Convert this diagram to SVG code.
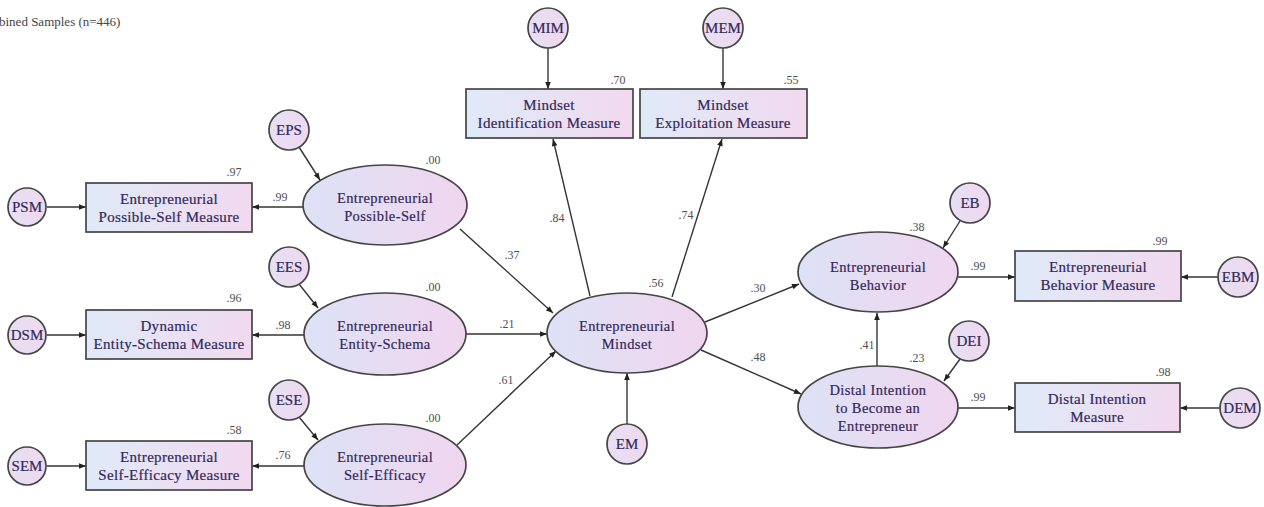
<svg xmlns="http://www.w3.org/2000/svg" width="1264" height="507" viewBox="0 0 1264 507">
  <defs>
    <linearGradient id="boxFill" x1="0" y1="0" x2="1" y2="0">
      <stop offset="0" stop-color="#dfeaf8"/>
      <stop offset="1" stop-color="#f2d9ef"/>
    </linearGradient>
    <linearGradient id="ovalFill" x1="0" y1="0" x2="1" y2="0">
      <stop offset="0" stop-color="#dde2f6"/>
      <stop offset="1" stop-color="#f0d6ef"/>
    </linearGradient>
    <linearGradient id="errFill" x1="0" y1="0" x2="1" y2="0">
      <stop offset="0" stop-color="#e6e0f4"/>
      <stop offset="1" stop-color="#efd8ef"/>
    </linearGradient>
    <marker id="arrow" viewBox="0 0 10 10" refX="10" refY="5" markerWidth="9" markerHeight="7" markerUnits="userSpaceOnUse" orient="auto">
      <path d="M0,1 L10,5 L0,9 z" fill="#222"/>
    </marker>
  </defs>
  <style>
    .box { fill: url(#boxFill); stroke: #454545; stroke-width: 1.7; }
    .oval { fill: url(#ovalFill); stroke: #454545; stroke-width: 1.7; }
    .err { fill: url(#errFill); stroke: #454545; stroke-width: 1.7; }
    text { font-family: 'Liberation Serif', 'DejaVu Serif', serif; }
    .lbl { font-size: 15px; letter-spacing: 0.3px; fill: #33285a; stroke: #33285a; stroke-width: 0.2; text-anchor: middle; }
    .elbl { font-size: 14.5px; letter-spacing: 0.4px; fill: #33285a; stroke: #33285a; stroke-width: 0.2; text-anchor: middle; }
    .clbl { font-size: 15px; fill: #33285a; stroke: #33285a; stroke-width: 0.2; text-anchor: middle; }
    .num { font-size: 12px; fill: #505050; text-anchor: middle; }
    .title { font-size: 13px; fill: #444; }
    #connectors line { stroke: #353535; stroke-width: 1.4; marker-end: url(#arrow); }
  </style>
  <rect width="1264" height="507" fill="#ffffff"/>

  <text class="title" x="-1" y="26">bined Samples (n=446)</text>

  <!-- paths and loadings -->
  <g id="connectors">
    <!-- error terms into measures -->
    <line x1="47" y1="207" x2="86" y2="207"/>
    <line x1="47" y1="335" x2="86" y2="335"/>
    <line x1="47" y1="466" x2="86" y2="466"/>
    <line x1="548" y1="48" x2="548" y2="89"/>
    <line x1="723" y1="48" x2="723" y2="89"/>
    <line x1="1218" y1="277" x2="1181" y2="277"/>
    <line x1="1220" y1="408" x2="1180" y2="408"/>
    <!-- disturbances into latents -->
    <line x1="299" y1="147" x2="320" y2="180"/>
    <line x1="299" y1="284" x2="318" y2="308"/>
    <line x1="299" y1="417" x2="318" y2="440"/>
    <line x1="627" y1="424" x2="627" y2="373"/>
    <line x1="960" y1="221" x2="943" y2="248"/>
    <line x1="960" y1="359" x2="944" y2="381"/>
    <!-- latents into indicators -->
    <line x1="303" y1="207" x2="252" y2="207"/>
    <line x1="304" y1="335" x2="252" y2="335"/>
    <line x1="304" y1="466" x2="252" y2="466"/>
    <line x1="590" y1="296" x2="553" y2="139"/>
    <line x1="672" y1="297" x2="722" y2="139"/>
    <line x1="958" y1="277" x2="1015" y2="277"/>
    <line x1="958" y1="408" x2="1015" y2="408"/>
    <!-- structural paths -->
    <line x1="460" y1="229" x2="553" y2="313"/>
    <line x1="466" y1="334" x2="547" y2="334"/>
    <line x1="457" y1="445" x2="556" y2="351"/>
    <line x1="705" y1="322" x2="799" y2="284"/>
    <line x1="701" y1="350" x2="801" y2="394"/>
    <line x1="877" y1="366" x2="877" y2="313"/>
  </g>

  <!-- loading and R-squared values -->
  <g id="values">
    <text class="num" x="234" y="176">.97</text>
    <text class="num" x="280" y="201">.99</text>
    <text class="num" x="433" y="164">.00</text>
    <text class="num" x="234" y="302">.96</text>
    <text class="num" x="283" y="329">.98</text>
    <text class="num" x="433" y="291">.00</text>
    <text class="num" x="234" y="434">.58</text>
    <text class="num" x="283" y="459">.76</text>
    <text class="num" x="433" y="422">.00</text>
    <text class="num" x="618" y="84">.70</text>
    <text class="num" x="791" y="84">.55</text>
    <text class="num" x="557" y="222">.84</text>
    <text class="num" x="686" y="219">.74</text>
    <text class="num" x="512" y="259">.37</text>
    <text class="num" x="507" y="328">.21</text>
    <text class="num" x="506" y="384">.61</text>
    <text class="num" x="656" y="287">.56</text>
    <text class="num" x="758" y="292">.30</text>
    <text class="num" x="758" y="361">.48</text>
    <text class="num" x="917" y="231">.38</text>
    <text class="num" x="978" y="270">.99</text>
    <text class="num" x="1160" y="245">.99</text>
    <text class="num" x="867" y="349">.41</text>
    <text class="num" x="917" y="362">.23</text>
    <text class="num" x="978" y="401">.99</text>
    <text class="num" x="1163" y="376">.98</text>
  </g>

  <!-- observed measures -->
  <g id="psm-measure">
    <rect class="box" x="86" y="183" width="166" height="49"/>
    <text class="lbl" x="169" y="204">Entrepreneurial</text>
    <text class="lbl" x="169" y="222">Possible-Self Measure</text>
  </g>
  <g id="dsm-measure">
    <rect class="box" x="86" y="310" width="166" height="49"/>
    <text class="lbl" x="169" y="331">Dynamic</text>
    <text class="lbl" x="169" y="349">Entity-Schema Measure</text>
  </g>
  <g id="sem-measure">
    <rect class="box" x="86" y="441" width="166" height="49"/>
    <text class="lbl" x="169" y="462">Entrepreneurial</text>
    <text class="lbl" x="169" y="480">Self-Efficacy Measure</text>
  </g>
  <g id="mim-measure">
    <rect class="box" x="466" y="89" width="167" height="49"/>
    <text class="lbl" x="549" y="110">Mindset</text>
    <text class="lbl" x="549" y="128">Identification Measure</text>
  </g>
  <g id="mem-measure">
    <rect class="box" x="640" y="89" width="167" height="49"/>
    <text class="lbl" x="723" y="110">Mindset</text>
    <text class="lbl" x="723" y="128">Exploitation Measure</text>
  </g>
  <g id="ebm-measure">
    <rect class="box" x="1015" y="251" width="166" height="50"/>
    <text class="lbl" x="1098" y="272">Entrepreneurial</text>
    <text class="lbl" x="1098" y="290">Behavior Measure</text>
  </g>
  <g id="dem-measure">
    <rect class="box" x="1015" y="383" width="165" height="49"/>
    <text class="lbl" x="1097" y="404">Distal Intention</text>
    <text class="lbl" x="1097" y="422">Measure</text>
  </g>

  <!-- latent constructs -->
  <g id="possible-self">
    <ellipse class="oval" cx="385" cy="205" rx="82" ry="40"/>
    <text class="elbl" x="385" y="203">Entrepreneurial</text>
    <text class="elbl" x="385" y="221">Possible-Self</text>
  </g>
  <g id="entity-schema">
    <ellipse class="oval" cx="385" cy="334" rx="81" ry="41"/>
    <text class="elbl" x="385" y="331">Entrepreneurial</text>
    <text class="elbl" x="385" y="349">Entity-Schema</text>
  </g>
  <g id="self-efficacy">
    <ellipse class="oval" cx="385" cy="465" rx="81" ry="41"/>
    <text class="elbl" x="385" y="462">Entrepreneurial</text>
    <text class="elbl" x="385" y="480">Self-Efficacy</text>
  </g>
  <g id="mindset">
    <ellipse class="oval" cx="627" cy="333" rx="80" ry="40"/>
    <text class="elbl" x="627" y="331">Entrepreneurial</text>
    <text class="elbl" x="627" y="349">Mindset</text>
  </g>
  <g id="behavior">
    <ellipse class="oval" cx="878" cy="272" rx="80" ry="40"/>
    <text class="elbl" x="878" y="272">Entrepreneurial</text>
    <text class="elbl" x="878" y="290">Behavior</text>
  </g>
  <g id="distal-intention">
    <ellipse class="oval" cx="878" cy="407" rx="80" ry="41"/>
    <text class="elbl" x="878" y="395">Distal Intention</text>
    <text class="elbl" x="878" y="413">to Become an</text>
    <text class="elbl" x="878" y="431">Entrepreneur</text>
  </g>

  <!-- error and disturbance terms -->
  <g id="PSM"><circle class="err" cx="27" cy="207" r="19"/><text class="clbl" x="27" y="212">PSM</text></g>
  <g id="DSM"><circle class="err" cx="27" cy="335" r="19"/><text class="clbl" x="27" y="340">DSM</text></g>
  <g id="SEM"><circle class="err" cx="27" cy="466" r="19"/><text class="clbl" x="27" y="471">SEM</text></g>
  <g id="EPS"><circle class="err" cx="289" cy="130" r="20"/><text class="clbl" x="289" y="135">EPS</text></g>
  <g id="EES"><circle class="err" cx="289" cy="267" r="20"/><text class="clbl" x="289" y="272">EES</text></g>
  <g id="ESE"><circle class="err" cx="289" cy="400" r="20"/><text class="clbl" x="289" y="405">ESE</text></g>
  <g id="MIM"><circle class="err" cx="548" cy="28" r="20"/><text class="clbl" x="548" y="33">MIM</text></g>
  <g id="MEM"><circle class="err" cx="723" cy="28" r="20"/><text class="clbl" x="723" y="33">MEM</text></g>
  <g id="EM"><circle class="err" cx="627" cy="444" r="20"/><text class="clbl" x="627" y="449">EM</text></g>
  <g id="EB"><circle class="err" cx="970" cy="203" r="20"/><text class="clbl" x="970" y="208">EB</text></g>
  <g id="DEI"><circle class="err" cx="969" cy="341" r="20"/><text class="clbl" x="969" y="346">DEI</text></g>
  <g id="EBM"><circle class="err" cx="1238" cy="277" r="20"/><text class="clbl" x="1238" y="282">EBM</text></g>
  <g id="DEM"><circle class="err" cx="1240" cy="408" r="20"/><text class="clbl" x="1240" y="413">DEM</text></g>
</svg>
